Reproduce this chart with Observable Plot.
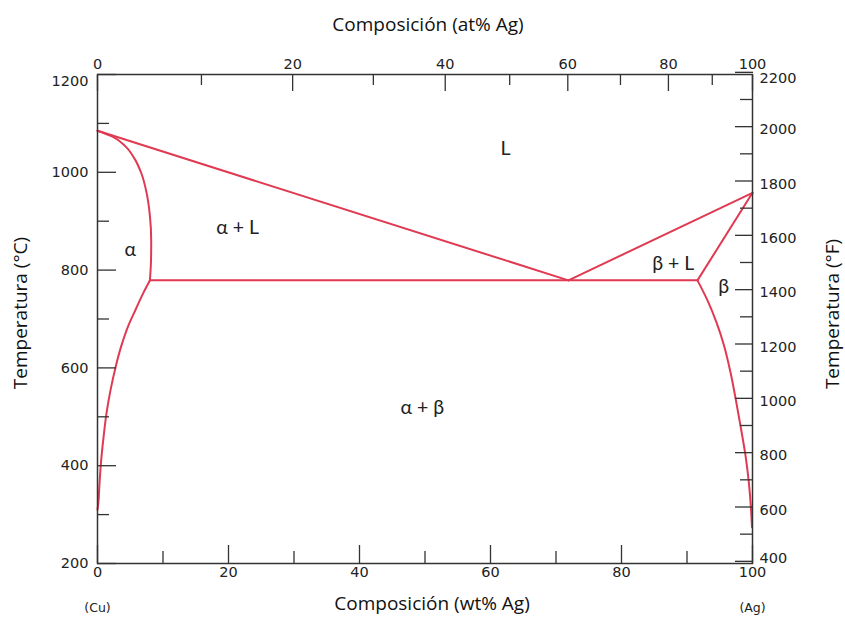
<!DOCTYPE html>
<html>
<head>
<meta charset="utf-8">
<script src="https://cdn.jsdelivr.net/npm/d3@7"></script>
<script src="https://cdn.jsdelivr.net/npm/@observablehq/plot@0.6"></script>
<style>
  html, body { margin: 0; padding: 0; background: #fff; }
</style>
</head>
<body>
<div id="chart"></div>
<script>
// Cu–Ag phase diagram. Composition in wt% Ag, temperature in °C.

// Liquidus, Cu side: Cu melting point to the eutectic point
const liquidusCuWt = [0, 71.9];
const liquidusCuT  = [1085, 779];

// Liquidus, Ag side: eutectic point to the Ag melting point
const liquidusAgWt = [71.9, 100];
const liquidusAgT  = [779, 958];

// Eutectic isotherm
const eutecticWt = [8.0, 91.6];
const eutecticT  = [779, 779];

// α solidus (Cu-rich)
const alphaSolidusWt = [0, 2.29, 4.27, 5.65, 6.72, 7.48, 7.98, 8.20, 8.17, 8.0];
const alphaSolidusT  = [1085, 1073, 1053, 1028, 997, 959, 914, 860, 820, 779];

// α solvus
const alphaSolvusWt = [8.0, 7.02, 5.88, 4.73, 3.66, 2.75, 1.98, 1.37, 0.92, 0.56, 0.31, 0.12, 0];
const alphaSolvusT  = [779, 754, 721, 687, 646, 601, 554, 507, 458, 411, 364, 323, 310];

// β solidus (Ag-rich)
const betaSolidusWt = [91.6, 100];
const betaSolidusT  = [779, 958];

// β solvus
const betaSolvusWt = [91.6, 93.13, 94.5, 95.65, 96.64, 97.48, 98.24, 98.93, 99.44, 99.77, 99.92];
const betaSolvusT  = [779, 738, 693, 646, 591, 533, 476, 421, 366, 312, 274];

// Phase-field labels
const regionNames = ["L", "α + L", "α", "β + L", "β", "α + β"];
const regionWt    = [62.3, 21.4, 5.0, 87.9, 95.6, 49.6];
const regionT     = [1049, 887, 842, 813, 766, 519];

// Pure-element end labels
const elementNames = ["(Cu)", "(Ag)"];
const elementWt    = [0, 100];

// Tick values
const wtMajor = [0, 20, 40, 60, 80, 100];
const wtMinor = [10, 30, 50, 70, 90];
const atMajor = [0, 20, 40, 60, 80, 100];
const atMinor = [10, 30, 50, 70, 90];
const cMajor  = [200, 400, 600, 800, 1000, 1200];
const cMinor  = [300, 500, 700, 900, 1100];
const fMajor  = [400, 600, 800, 1000, 1200, 1400, 1600, 1800, 2000, 2200];
const fMinor  = [500, 700, 900, 1100, 1300, 1500, 1700, 1900, 2100];

// Atomic weights for the at% ↔ wt% conversion
const M_AG = 107.87, M_CU = 63.546;
const atToWt = a => (a * M_AG) / (a * M_AG + (100 - a) * M_CU) * 100;
const wtToAt = w => (w / M_AG) / (w / M_AG + (100 - w) / M_CU) * 100;
const fToC = f => (f - 32) * 5 / 9;
const cToF = c => c * 9 / 5 + 32;

const zip = (ws, ts) => ws.map((w, i) => ({wt: w, T: ts[i]}));

const RED = "#e03a52";
const AXIS = "#333";
const TEXT = "#222";
const TITLE_FONT = "'Open Sans', Lato, sans-serif";
const LABEL_FONT = "Lato, 'Open Sans', sans-serif";
const noText = () => "";
const plain = d => String(Math.round(d));

const boundary = (ws, ts, extra = {}) =>
  Plot.line(zip(ws, ts), {x: "wt", y: "T", stroke: RED, strokeWidth: 2, strokeLinejoin: "round", ...extra});

const tickMarks = {stroke: AXIS, strokeWidth: 1.3, label: null, tickFormat: noText};
const tickText = {tickSize: 0, label: null, fill: TEXT, fontSize: 14.5, tickFormat: plain};

const title = (s, opts) => Plot.text([s], {
  text: d => d, textAnchor: "middle", lineAnchor: "middle",
  fontFamily: TITLE_FONT, fontSize: 19, fill: "#111", ...opts
});

const chart = Plot.plot({
  width: 845,
  height: 617,
  marginLeft: 97,
  marginRight: 93,
  marginTop: 74,
  marginBottom: 54,
  x: {domain: [0, 100]},
  y: {domain: [200, 1200]},
  style: {fontFamily: "'DejaVu Sans', sans-serif", fontSize: "14.5px", color: TEXT, background: "#fff"},
  marks: [
    // phase boundaries
    boundary(liquidusCuWt, liquidusCuT),
    boundary(liquidusAgWt, liquidusAgT),
    boundary(eutecticWt, eutecticT),
    boundary(alphaSolidusWt, alphaSolidusT, {curve: "monotone-y"}),
    boundary(alphaSolvusWt, alphaSolvusT, {curve: "monotone-y"}),
    boundary(betaSolidusWt, betaSolidusT),
    boundary(betaSolvusWt, betaSolvusT, {curve: "monotone-y"}),

    Plot.frame({stroke: AXIS, strokeWidth: 1.5}),

    // bottom axis: wt% Ag
    Plot.axisX(wtMajor, {anchor: "bottom", tickSize: -18, ...tickMarks}),
    Plot.axisX(wtMinor, {anchor: "bottom", tickSize: -12, ...tickMarks}),
    Plot.axisX(wtMajor, {anchor: "bottom", tickPadding: 3, ...tickText}),

    // top axis: at% Ag
    Plot.axisX(atMajor.map(atToWt), {anchor: "top", tickSize: -16, ...tickMarks}),
    Plot.axisX(atMinor.map(atToWt), {anchor: "top", tickSize: -10, ...tickMarks}),
    Plot.axisX(atMajor.map(atToWt), {anchor: "top", tickPadding: 6, ...tickText,
      tickFormat: w => plain(wtToAt(w))}),

    // left axis: °C
    Plot.axisY(cMajor, {anchor: "left", tickSize: -19, ...tickMarks}),
    Plot.axisY(cMinor, {anchor: "left", tickSize: -12, ...tickMarks}),
    Plot.axisY(cMajor.filter(c => c < 1200), {anchor: "left", tickPadding: 9, ...tickText}),
    Plot.axisY([1200], {anchor: "left", tickPadding: 9, dy: 7, ...tickText}),

    // right axis: °F
    Plot.axisY(fMajor.map(fToC), {anchor: "right", tickSize: -18, ...tickMarks}),
    Plot.axisY(fMinor.map(fToC), {anchor: "right", tickSize: -13, ...tickMarks}),
    Plot.axisY(fMajor.filter(f => f > 400 && f < 2200).map(fToC), {anchor: "right", tickPadding: 7, dy: 3, ...tickText,
      tickFormat: c => plain(cToF(c))}),
    Plot.axisY([fToC(2200)], {anchor: "right", tickPadding: 7, dy: 6, ...tickText,
      tickFormat: c => plain(cToF(c))}),
    Plot.axisY([fToC(400)], {anchor: "right", tickPadding: 7, dy: -3, ...tickText,
      tickFormat: c => plain(cToF(c))}),

    // phase-field labels
    Plot.text(regionNames, {
      x: (d, i) => regionWt[i], y: (d, i) => regionT[i], text: d => d,
      fontFamily: LABEL_FONT, fontSize: 19.5, fill: TEXT
    }),

    // element labels under the composition axis ends
    Plot.text(elementNames, {
      x: (d, i) => elementWt[i], frameAnchor: "bottom", dy: 44, text: d => d,
      lineAnchor: "middle", fontSize: 12.5, fill: TEXT
    }),

    // axis titles
    title("Composición (at% Ag)", {frameAnchor: "top", dx: 3, dy: -50}),
    title("Composición (wt% Ag)", {frameAnchor: "bottom", dx: 7, dy: 40}),
    title("Temperatura (°C)", {frameAnchor: "left", dx: -77, dy: -6, rotate: -90}),
    title("Temperatura (°F)", {frameAnchor: "right", dx: 80, dy: -5, rotate: -90})
  ]
});

document.getElementById("chart").appendChild(chart);
</script>
</body>
</html>
